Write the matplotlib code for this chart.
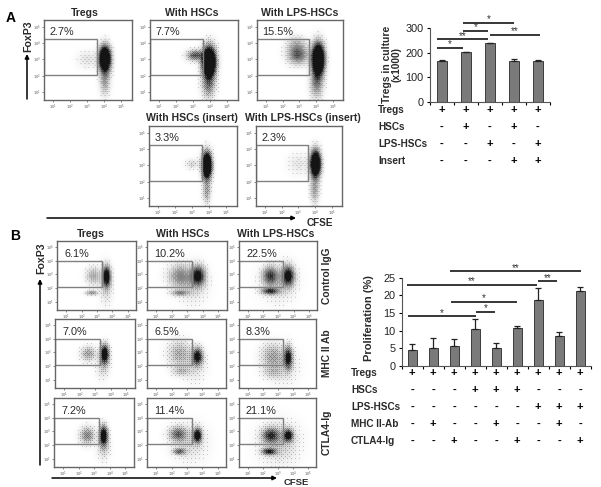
import numpy as np
import matplotlib
matplotlib.use("Agg")
import matplotlib.pyplot as plt

plt.rcParams['font.family'] = ['Liberation Sans', 'DejaVu Sans']

W, H = 601, 487

# bar chart A
a_values = [165, 202, 238, 167, 165]
a_errors = [4, 2, 3, 6, 6]
a_rows = ["Tregs", "HSCs", "LPS-HSCs", "Insert"]
a_signs = [list("+++++"), list("-+-+-"), list("--+-+"), list("---++")]
# from bar, to bar, height, label
a_sig = [(-0.2, 0.88, 220, "*"), (-0.2, 1.9, 254, "**"), (0.88, 1.93, 289, "*"),
         (0.88, 3.0, 321, "*"), (1.98, 4.1, 273, "**")]

# bar chart B
b_values = [4.5, 5.1, 5.6, 10.5, 5.0, 10.7, 18.6, 8.5, 21.2]
b_errors = [1.7, 2.8, 2.0, 2.8, 1.5, 0.7, 3.6, 1.1, 1.3]
b_rows = ["Tregs", "HSCs", "LPS-HSCs", "MHC II-Ab", "CTLA4-Ig"]
b_signs = [list("+++++++++"), list("---+++---"), list("------+++"),
           list("-+--+--+-"), list("--+--+--+")]
b_sig = [(1.8, 8.06, 26.9, "**"), (-0.25, 5.96, 23.0, "**"), (5.99, 6.9, 24.1, "**"),
         (1.86, 4.97, 18.2, "*"), (3.03, 3.96, 15.4, "*"), (-0.22, 3.03, 14.2, "*")]

# flow panels: the dot clouds are read off the picture as blobs
# (log10 CFSE, log10 FoxP3, spread x, spread y, darkness), not as single events
a_tregs = [(4.0, 3.04, .22, .5, 2.2), (4.0, 1.7, .2, .6, .4), (3.0, 3.0, .4, .35, .14)]
a_hsc = [(3.93, 2.84, .26, .6, 2.4), (3.9, 1.4, .26, .55, .5), (3.1, 3.25, .32, .22, .7)]
a_lps = [(4.1, 3.0, .24, .62, 2.4), (4.0, 1.5, .26, .6, .5), (2.88, 3.25, .4, .36, .65), (2.8, 3.9, .4, .35, .3)]
a_hsc_ins = [(3.86, 3.0, .19, .52, 2.2), (3.86, 1.4, .16, .5, .4), (3.0, 3.1, .26, .2, .2)]
a_lps_ins = [(4.0, 3.1, .2, .52, 2.2), (3.95, 1.5, .18, .55, .4), (3.0, 3.1, .45, .45, .12)]

b_ctl_t = [(3.64, 2.82, .17, .48, 1.2), (2.77, 2.85, .32, .42, .35), (2.66, 1.6, .28, .12, .45), (3.6, 2.2, .28, .9, .22)]
b_ctl_h = [(3.7, 2.85, .3, .48, 1.0), (2.5, 2.85, .5, .55, .45), (2.5, 1.6, .38, .14, .45), (3.3, 2.2, .65, .9, .18)]
b_ctl_l = [(3.65, 2.85, .27, .48, 1.05), (2.44, 2.85, .33, .42, .7), (2.44, 1.73, .38, .16, .8), (3.0, 2.4, .75, .9, .22)]
b_mhc_t = [(3.6, 2.9, .19, .46, 1.25), (2.54, 2.9, .32, .36, .4), (3.5, 2.0, .28, .6, .22)]
b_mhc_h = [(3.7, 2.7, .23, .42, 1.0), (2.5, 2.9, .5, .65, .35), (2.6, 1.6, .38, .25, .25), (3.5, 2.0, .5, .8, .15)]
b_mhc_l = [(3.7, 2.6, .19, .54, 1.0), (2.6, 2.7, .5, .65, .35), (2.6, 1.5, .45, .3, .18), (3.4, 2.0, .65, .9, .15)]
b_cta_t = [(3.6, 2.7, .18, .48, 1.25), (2.54, 2.7, .32, .42, .5), (3.6, 1.8, .28, .6, .22)]
b_cta_h = [(3.7, 2.7, .19, .36, 1.1), (2.4, 2.8, .38, .36, .6), (2.5, 1.5, .28, .16, .6), (3.2, 2.2, .75, .9, .18)]
b_cta_l = [(3.7, 2.7, .22, .3, 1.05), (2.5, 2.7, .38, .36, .75), (2.4, 1.5, .32, .17, .85), (3.1, 2.2, .85, 1.0, .25)]

# fixed screen used to give the blobs some grain
screen = (np.array([[0, 8, 2, 10], [12, 4, 14, 6], [3, 11, 1, 9], [15, 7, 13, 5]]) + 0.5) / 16

fig = plt.figure(figsize=(W / 100, H / 100), dpi=100, facecolor="white")


def px_axes(x0, y0, x1, y1):
    return fig.add_axes([x0 / W, 1 - y1 / H, (x1 - x0) / W, (y1 - y0) / H])


def ftext(x, y, s, **kw):
    kw.setdefault("ha", "center")
    kw.setdefault("va", "center")
    kw.setdefault("fontsize", 7.8)
    kw.setdefault("color", "#2a2a2a")
    return fig.text(x / W, 1 - y / H, s, **kw)


def farrow(x0, y0, x1, y1, lw=1.1):
    ann = plt.annotate("", xy=(x1 / W, 1 - y1 / H), xytext=(x0 / W, 1 - y0 / H),
                       xycoords="figure fraction", textcoords="figure fraction",
                       arrowprops=dict(arrowstyle="-|>", color="black", lw=lw,
                                       mutation_scale=6, shrinkA=0, shrinkB=0))
    return ann


def flow_panel(box, clouds, pct, gate, xlim, ylim, pct_pos):
    ax = px_axes(*box)
    nx, ny = int(box[2] - box[0]), int(box[3] - box[1])
    gx = np.linspace(xlim[0], xlim[1], nx)
    gy = np.linspace(ylim[0], ylim[1], ny)
    xx, yy = np.meshgrid(gx, gy)
    dens = np.zeros_like(xx)
    for cx, cy, sx, sy, dark in clouds:
        dens += dark * np.exp(-((xx - cx) / sx) ** 2 / 2 - ((yy - cy) / sy) ** 2 / 2)
    dens = np.clip(dens, 0, 1)
    tiled = np.tile(screen, (ny // 4 + 1, nx // 4 + 1))[:ny, :nx]
    grain = (dens > tiled).astype(float)
    img = 1 - np.clip(0.2 * grain + 0.75 * dens, 0, 0.92)
    ax.imshow(img, cmap="gray", vmin=0, vmax=1, origin="lower",
              extent=[xlim[0], xlim[1], ylim[0], ylim[1]], aspect="auto", interpolation="bilinear")
    right, top, bottom = gate
    ax.plot([xlim[0], right, right, xlim[0], xlim[0]], [top, top, bottom, bottom, top],
            color="#808080", lw=1, solid_joinstyle="miter")
    ax.set_xlim(xlim)
    ax.set_ylim(ylim)
    ax.set_xticks([1, 2, 3, 4, 5], ["$10^{%d}$" % i for i in range(1, 6)])
    ax.set_yticks([1, 2, 3, 4, 5], ["$10^{%d}$" % i for i in range(1, 6)])
    ax.tick_params(labelsize=2.6, length=1.5, width=0.5, pad=0.4, colors="#555555")
    for s in ax.spines.values():
        s.set_color("#666666")
        s.set_linewidth(1)
    ax.text(pct_pos[0], pct_pos[1], pct, transform=ax.transAxes, ha="left", va="center",
            fontsize=7.8, color="#2a2a2a")
    return ax


def bar_panel(box, values, errors, ymax, yticks, rows, signs, rowy, labelx, sig):
    ax = px_axes(*box)
    x = np.arange(len(values))
    ax.bar(x, values, width=0.44, color="#7a7a7a", edgecolor="#3c3c3c", linewidth=0.7)
    ax.errorbar(x, values, yerr=[np.zeros(len(errors)), errors], fmt="none", ecolor="#222222",
                elinewidth=0.9, capsize=2.2, capthick=0.9)
    ax.set_xlim(-0.5, len(values) - 0.5)
    ax.set_ylim(0, ymax)
    ax.set_yticks(yticks)
    ax.set_xticks(np.arange(len(values) + 1) - 0.5, [])
    ax.tick_params(axis="y", labelsize=7.8, length=2.5, width=0.8, pad=2, labelcolor="#222222")
    ax.tick_params(axis="x", length=2.5, width=0.8)
    ax.spines[["top", "right"]].set_visible(False)
    for s in ["left", "bottom"]:
        ax.spines[s].set_color("#555555")
    for x0, x1, h, star in sig:
        ax.plot([x0, x1], [h, h], color="black", lw=1.1, clip_on=False, solid_capstyle="butt")
        ax.text((x0 + x1) / 2, h - ymax * 0.02, star, ha="center", va="bottom", fontsize=7,
                color="#333333", clip_on=False)
    trans = ax.get_xaxis_transform()
    for row, marks, y in zip(rows, signs, rowy):
        ftext(labelx, y, row, ha="left", fontweight="bold", fontsize=7.2)
        for i, m in enumerate(marks):
            ax.text(i, 1 - (y - box[1]) / (box[3] - box[1]), m, transform=trans, ha="center",
                    va="center", fontsize=8, fontweight="bold", color="black", clip_on=False)
    return ax


# panel A flow plots
a_xlim, a_ylim = (0.45, 5.62), (0.51, 5.41)
a_panels = [((44, 20, 132, 100), a_tregs, "2.7%"),
            ((150, 20, 238, 100), a_hsc, "7.7%"),
            ((257, 20, 343, 100), a_lps, "15.5%"),
            ((149, 126, 237, 206), a_hsc_ins, "3.3%"),
            ((256, 126, 342, 206), a_lps_ins, "2.3%")]
for box, clouds, pct in a_panels:
    flow_panel(box, clouds, pct, (3.55, 4.23, 2.03), a_xlim, a_ylim, (0.06, 0.85))
for x, y, s in [(85, 13, "Tregs"), (192, 13, "With HSCs"), (300, 13, "With LPS-HSCs"),
                (192, 118, "With HSCs (insert)"), (303, 118, "With LPS-HSCs (insert)")]:
    ftext(x, y, s, fontweight="bold", fontsize=7.6)

# panel B flow plots
b_xlim, b_ylim = (0.39, 5.55), (0.39, 5.44)
b_boxes = [[(57, 241, 136, 310), (147, 241, 227, 310), (239, 241, 317, 310)],
           [(55, 319, 135, 388), (147, 319, 226, 388), (239, 319, 316, 388)],
           [(54, 398, 134, 467), (147, 398, 226, 467), (239, 398, 316, 467)]]
b_clouds = [[b_ctl_t, b_ctl_h, b_ctl_l], [b_mhc_t, b_mhc_h, b_mhc_l], [b_cta_t, b_cta_h, b_cta_l]]
b_pcts = [["6.1%", "10.2%", "22.5%"], ["7.0%", "6.5%", "8.3%"], ["7.2%", "11.4%", "21.1%"]]
for r in range(3):
    for c in range(3):
        flow_panel(b_boxes[r][c], b_clouds[r][c], b_pcts[r][c], (3.32, 4.0, 2.04), b_xlim, b_ylim, (0.09, 0.81))
for x, s in [(91, "Tregs"), (183, "With HSCs"), (276, "With LPS-HSCs")]:
    ftext(x, 234, s, fontweight="bold", fontsize=7.6)
for y, s in [(276, "Control IgG"), (353, "MHC II Ab"), (432, "CTLA4-Ig")]:
    ftext(327, y, s, rotation=90, fontweight="bold", fontsize=7.4)

# bar charts
ax_a = bar_panel((430, 28, 550, 102), a_values, a_errors, 300, [0, 100, 200, 300], a_rows, a_signs,
                 [110, 127, 144, 161], 378, a_sig)
ftext(392, 64, "Tregs in culture\n(x1000)", rotation=90, fontsize=7.4, linespacing=1.0, fontweight="bold")
ax_b = bar_panel((401.7, 277.7, 590.7, 366), b_values, b_errors, 25, [0, 5, 10, 15, 20, 25], b_rows, b_signs,
                 [373, 390, 407, 424, 441], 351, b_sig)
ftext(369, 318, "Proliferation (%)", rotation=90, fontsize=8, fontweight="bold")

# arrows and axis names
ftext(28, 36, "FoxP3", rotation=90, fontweight="bold", fontsize=7.6)
farrow(27, 99, 27, 54)
farrow(47, 218, 296, 218)
ftext(320, 223, "CFSE", fontweight="bold", fontsize=7.2)
ftext(41, 258, "FoxP3", rotation=90, fontweight="bold", fontsize=7.6)
farrow(40, 465, 40, 279)
farrow(52, 478, 277, 478)
ftext(296, 482.5, "CFSE", fontweight="bold", fontsize=6.8)
ftext(11, 18, "A", fontweight="bold", fontsize=10, color="black")
ftext(15, 236, "B", fontweight="bold", fontsize=10, color="black")

fig.savefig("out.png", dpi=100)
